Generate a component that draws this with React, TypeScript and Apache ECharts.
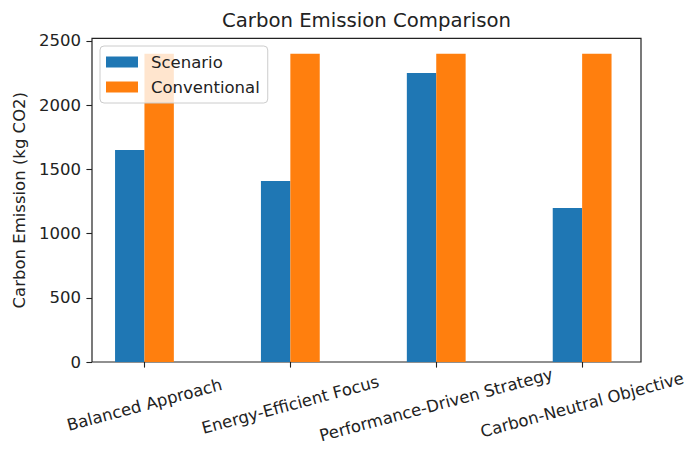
import React, { useEffect, useRef } from "react";
import * as echarts from "echarts";

const categories = [
  "Balanced Approach",
  "Energy-Efficient Focus",
  "Performance-Driven Strategy",
  "Carbon-Neutral Objective",
];
const scenario = [1650, 1410, 2250, 1200];
const conventional = [2400, 2400, 2400, 2400];
const yTicks = [0, 500, 1000, 1500, 2000, 2500];

const FONT = "DejaVu Sans";
const TEXT = "#222";
const Y_MAX = 2520;
const FS = 16.5;

export default function App() {
  const ref = useRef<HTMLDivElement>(null);
  useEffect(() => {
    if (!ref.current) return;
    const chart = echarts.init(ref.current, undefined, { renderer: "svg" });
    chart.setOption({
      animation: false,
      backgroundColor: "#fff",
      title: {
        text: "Carbon Emission Comparison",
        left: 222,
        top: 10,
        padding: 0,
        textStyle: { fontFamily: FONT, fontSize: 19.7, fontWeight: "normal", color: TEXT, lineHeight: 20 },
      },
      legend: {
        orient: "vertical",
        left: 100,
        top: 46,
        padding: [7, 8, 7, 6],
        itemWidth: 32,
        itemHeight: 11,
        itemGap: 7,
        icon: "rect",
        backgroundColor: "rgba(255,255,255,0.8)",
        borderColor: "#cccccc",
        borderWidth: 1,
        borderRadius: 4,
        textStyle: { fontFamily: FONT, fontSize: FS, color: TEXT, lineHeight: 18, padding: [0, 0, 0, 8] },
        data: ["Scenario", "Conventional"],
      },
      grid: [
        {
          left: 92,
          right: 47,
          top: 38.4,
          bottom: 88,
          show: true,
          borderColor: "#222",
          borderWidth: 1.2,
          backgroundColor: "transparent",
          containLabel: false,
        },
        {
          left: 71.5,
          right: 28.5,
          top: 38.4,
          bottom: 88,
          show: false,
          containLabel: false,
        },
      ],
      xAxis: [
        {
          gridIndex: 0,
          type: "value",
          min: 0,
          max: 1,
          show: false,
        },
        {
          gridIndex: 1,
          type: "category",
          data: categories,
          boundaryGap: true,
          splitLine: { show: false },
          axisLine: { show: false },
          axisTick: { show: true, alignWithLabel: true, length: 5.6, lineStyle: { color: "#222", width: 1.1 } },
          axisLabel: {
            interval: 0,
            rotate: 15,
            align: "center",
            verticalAlign: "middle",
            margin: 43,
            fontFamily: FONT,
            fontSize: FS,
            color: TEXT,
          },
        },
      ],
      yAxis: [
        {
          gridIndex: 0,
          type: "value",
          min: 0,
          max: Y_MAX,
          name: "Carbon Emission (kg CO2)",
          nameLocation: "middle",
          nameGap: 57,
          nameTextStyle: { fontFamily: FONT, fontSize: FS, color: TEXT },
          splitLine: { show: false },
          axisLine: { show: false },
          axisTick: { show: true, customValues: yTicks, length: 5.6, lineStyle: { color: "#222", width: 1.1 } },
          axisLabel: {
            customValues: yTicks,
            formatter: (v: number) => String(v),
            margin: 11,
            fontFamily: FONT,
            fontSize: FS,
            color: TEXT,
          },
        },
        {
          gridIndex: 1,
          type: "value",
          min: 0,
          max: Y_MAX,
          show: false,
          splitLine: { show: false },
        },
      ],
      series: [
        {
          name: "Scenario",
          type: "bar",
          xAxisIndex: 1,
          yAxisIndex: 1,
          data: scenario,
          barWidth: 29.4,
          barGap: "0%",
          itemStyle: { color: "#1f77b4" },
        },
        {
          name: "Conventional",
          type: "bar",
          xAxisIndex: 1,
          yAxisIndex: 1,
          data: conventional,
          barWidth: 29.4,
          barGap: "0%",
          itemStyle: { color: "#ff7f0e" },
        },
      ],
    });
    return () => chart.dispose();
  }, []);
  return (
    <div
      ref={ref}
      style={{ position: "fixed", left: 0, top: 0, width: 688, height: 450, background: "#fff" }}
    />
  );
}
